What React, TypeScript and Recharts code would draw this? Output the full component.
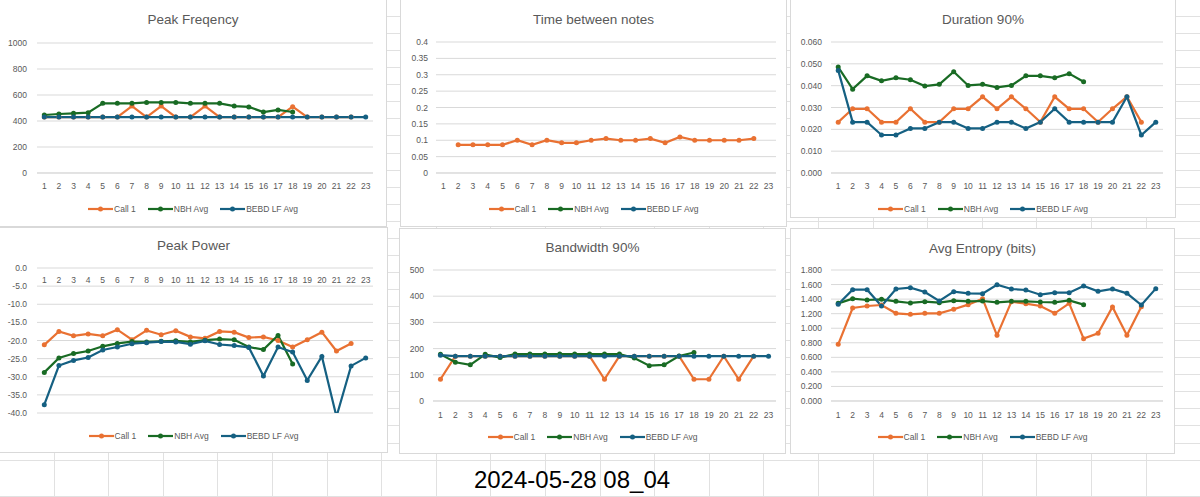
import React from 'react';
import { LineChart, Line, XAxis, YAxis, CartesianGrid } from 'recharts';

// categories shared by all six charts
const categories = ['1', '2', '3', '4', '5', '6', '7', '8', '9', '10', '11', '12', '13', '14', '15', '16', '17', '18', '19', '20', '21', '22', '23'];

const seriesNames = ['Call 1', 'NBH Avg', 'BEBD LF Avg'];
const seriesColors = ['#E97132', '#196B24', '#156082'];

// Peak Freqency
const peakFreqCall1 = [430, 430, 430, 430, 430, 430, 515, 430, 515, 430, 430, 515, 430, 430, 430, 430, 430, 510, 430, 430, 430, 430, null];
const peakFreqNbh = [446, 454, 459, 464, 536, 536, 536, 543, 543, 543, 536, 536, 536, 515, 508, 469, 485, 469, null, null, null, null, null];
const peakFreqBebd = [430, 430, 430, 430, 430, 430, 430, 430, 430, 430, 430, 430, 430, 430, 430, 430, 430, 430, 430, 430, 430, 430, 430];
const peakFreqTicks = [0, 200, 400, 600, 800, 1000];

// Time between notes
const timeCall1 = [null, 0.086, 0.086, 0.086, 0.086, 0.1, 0.086, 0.1, 0.092, 0.092, 0.1, 0.105, 0.1, 0.1, 0.105, 0.092, 0.11, 0.1, 0.1, 0.1, 0.1, 0.105, null];
const timeNbh = [null, null, null, null, null, null, null, null, null, null, null, null, null, null, null, null, null, null, null, null, null, null, null];
const timeBebd = [null, null, null, null, null, null, null, null, null, null, null, null, null, null, null, null, null, null, null, null, null, null, null];
const timeTicks = [0, 0.05, 0.1, 0.15, 0.2, 0.25, 0.3, 0.35, 0.4];

// Duration 90%
const durCall1 = [0.0233, 0.0294, 0.0294, 0.0233, 0.0233, 0.0294, 0.0233, 0.0233, 0.0294, 0.0294, 0.0349, 0.0294, 0.0349, 0.0294, 0.0233, 0.0349, 0.0294, 0.0294, 0.0233, 0.0294, 0.0349, 0.0233, null];
const durNbh = [0.0485, 0.0384, 0.0445, 0.0422, 0.0436, 0.0427, 0.0398, 0.0406, 0.0464, 0.0401, 0.0406, 0.0392, 0.0401, 0.0445, 0.0445, 0.0436, 0.0455, 0.0418, null, null, null, null, null];
const durBebd = [0.047, 0.0233, 0.0233, 0.0174, 0.0174, 0.0204, 0.0204, 0.0233, 0.0233, 0.0204, 0.0204, 0.0233, 0.0233, 0.0204, 0.0233, 0.0294, 0.0233, 0.0233, 0.0233, 0.0233, 0.0349, 0.0174, 0.0233];
const durTicks = [0, 0.01, 0.02, 0.03, 0.04, 0.05, 0.06];

// Peak Power
const powerCall1 = [-21.2, -17.5, -18.7, -18.2, -18.7, -17.0, -19.8, -17.2, -18.4, -17.3, -19.0, -19.4, -17.5, -17.7, -19.2, -19.0, -20.0, -21.8, -19.8, -17.7, -22.9, -20.8, null];
const powerNbh = [-28.8, -24.8, -23.6, -22.9, -21.6, -20.8, -20.3, -20.4, -20.2, -20.1, -20.4, -19.9, -19.6, -19.8, -21.8, -22.5, -18.6, -26.5, null, null, null, null, null];
const powerBebd = [-37.7, -26.9, -25.5, -24.7, -22.6, -21.8, -20.9, -20.6, -20.3, -20.4, -21.0, -20.1, -21.1, -21.4, -21.9, -29.8, -21.8, -23.2, -31.0, -24.4, -41.0, -27.0, -24.8];
const powerTicks = [-40, -35, -30, -25, -20, -15, -10, -5, 0];

// Bandwidth 90%
const bwCall1 = [83, 171, 171, 171, 171, 171, 171, 171, 171, 171, 171, 83, 171, 171, 171, 171, 171, 83, 83, 171, 83, 171, null];
const bwNbh = [178, 148, 138, 178, 166, 179, 179, 179, 179, 179, 179, 179, 179, 164, 135, 138, 172, 185, null, null, null, null, null];
const bwBebd = [175, 171, 171, 171, 171, 171, 171, 171, 171, 171, 171, 171, 171, 171, 171, 171, 171, 171, 171, 171, 171, 171, 171];
const bwTicks = [0, 100, 200, 300, 400, 500];

// Avg Entropy (bits)
const entCall1 = [0.779, 1.278, 1.305, 1.319, 1.205, 1.191, 1.205, 1.205, 1.26, 1.324, 1.406, 0.902, 1.365, 1.337, 1.305, 1.205, 1.342, 0.857, 0.93, 1.292, 0.902, 1.296, null];
const entNbh = [1.342, 1.406, 1.388, 1.397, 1.37, 1.347, 1.365, 1.351, 1.379, 1.37, 1.374, 1.356, 1.37, 1.37, 1.36, 1.356, 1.383, 1.324, null, null, null, null, null];
const entBebd = [1.328, 1.53, 1.53, 1.305, 1.539, 1.557, 1.498, 1.374, 1.502, 1.479, 1.475, 1.598, 1.539, 1.525, 1.461, 1.489, 1.489, 1.58, 1.507, 1.539, 1.479, 1.319, 1.544];
const entTicks = [0, 0.2, 0.4, 0.6, 0.8, 1.0, 1.2, 1.4, 1.6, 1.8];

const sheetCaption = '2024-05-28 08_04';

const FONT = '"Liberation Sans", Arial, sans-serif';
const GRAY = '#595959';
const GRID = '#D9D9D9';

type Layout = {
  x: number; y: number; w: number; h: number;
  pl: number; pr: number; pt: number; pb: number;
  labelRight: number; titleY: number; legendY: number; xLabelY: number;
};

type PanelProps = {
  title: string;
  layout: Layout;
  values: (number | null)[][];
  ticks: number[];
  fmt: (v: number) => string;
  xOnTop?: boolean;
};

const Legend = ({ top, width }: { top: number; width: number }) => (
  <div style={{ position: 'absolute', top, left: 0, width, height: 12, display: 'flex', justifyContent: 'center', alignItems: 'center', gap: 12, fontFamily: FONT, fontSize: 8.5, color: GRAY }}>
    {seriesNames.map((n, i) => (
      <div key={n} style={{ display: 'flex', alignItems: 'center', gap: 1 }}>
        <svg width={25} height={8}>
          <line x1={0} y1={4} x2={25} y2={4} stroke={seriesColors[i]} strokeWidth={2.2} />
          <circle cx={12.5} cy={4} r={2.5} fill={seriesColors[i]} />
        </svg>
        <span>{n}</span>
      </div>
    ))}
  </div>
);

const Panel = ({ title, layout, values, ticks, fmt, xOnTop }: PanelProps) => {
  const { x, y, w, h, pl, pr, pt, pb, labelRight, titleY, legendY, xLabelY } = layout;
  const data = categories.map((c, i) => ({ cat: c, s0: values[0][i], s1: values[1][i], s2: values[2][i] }));
  const half = (pr - pl) / 23 / 2;
  const xAxisH = 20;
  const margin = xOnTop
    ? { top: pt, right: w - pr, bottom: h - pb, left: 0 }
    : { top: pt, right: w - pr, bottom: h - pb - xAxisH, left: 0 };
  const tickStyle = { fontSize: 8.5, fill: GRAY, fontFamily: FONT };
  return (
    <div style={{ position: 'absolute', left: x, top: y, width: w, height: h, background: '#fff', border: `1px solid ${GRID}`, boxSizing: 'border-box' }}>
      <div style={{ position: 'absolute', left: -1, top: -1 }}>
        <LineChart width={w} height={h} data={data} margin={margin}>
          <CartesianGrid vertical={false} stroke={GRID} />
          {xOnTop ? (
            <XAxis dataKey="cat" orientation="top" mirror interval={0} tickLine={false} axisLine={false}
              tick={tickStyle} tickMargin={xLabelY - pt - 9} padding={{ left: half, right: half }} />
          ) : (
            <XAxis dataKey="cat" height={xAxisH} interval={0} tickLine={false} axisLine={{ stroke: GRID }}
              tick={tickStyle} tickMargin={xLabelY - pb - 9} padding={{ left: half, right: half }} />
          )}
          <YAxis width={pl} domain={[ticks[0], ticks[ticks.length - 1]]} ticks={ticks} allowDataOverflow interval={0}
            tickFormatter={fmt} tickLine={false} axisLine={false} tick={tickStyle} tickMargin={pl - 6 - labelRight} />
          {seriesNames.map((n, i) => (
            <Line key={n} dataKey={`s${i}`} name={n} stroke={seriesColors[i]} strokeWidth={2.2}
              dot={{ r: 2.5, fill: seriesColors[i], stroke: 'none' }} isAnimationActive={false} />
          ))}
        </LineChart>
        <div style={{ position: 'absolute', top: titleY - 9, left: 0, width: w, textAlign: 'center', fontFamily: FONT, fontSize: 13.5, lineHeight: '18px', color: GRAY }}>{title}</div>
        <Legend top={legendY - 6} width={w} />
      </div>
    </div>
  );
};

const layouts: Layout[] = [
  { x: -1, y: -1, w: 388, h: 228, pl: 38, pr: 374, pt: 44, pb: 174, labelRight: 28, titleY: 21, legendY: 210, xLabelY: 187 },
  { x: 400, y: -1, w: 387, h: 228, pl: 36, pr: 376, pt: 43, pb: 174, labelRight: 28, titleY: 21, legendY: 210, xLabelY: 187 },
  { x: 790, y: -1, w: 386, h: 219, pl: 41, pr: 373, pt: 43, pb: 174, labelRight: 32, titleY: 21, legendY: 210, xLabelY: 187 },
  { x: -1, y: 227, w: 389, h: 226, pl: 38, pr: 374, pt: 41, pb: 186, labelRight: 28, titleY: 19, legendY: 209, xLabelY: 53 },
  { x: 399, y: 228, w: 387, h: 226, pl: 34, pr: 377, pt: 42, pb: 173, labelRight: 25, titleY: 20, legendY: 209, xLabelY: 187 },
  { x: 790, y: 228, w: 385, h: 226, pl: 41, pr: 373, pt: 42, pb: 173, labelRight: 32, titleY: 21, legendY: 209, xLabelY: 187 },
];

const fmtInt = (v: number) => String(v);
const fmt3 = (v: number) => v.toFixed(3);
const fmt1 = (v: number) => v.toFixed(1);

export default function App() {
  return (
    <div style={{ position: 'absolute', left: 0, top: 0, width: 1200, height: 497, overflow: 'hidden', background: '#fff' }}>
      <div style={{ position: 'absolute', left: 0, top: 0, width: 1200, height: 461,
        backgroundImage: 'repeating-linear-gradient(to right, transparent 0, transparent 53.6px, #E1E1E1 53.6px, #E1E1E1 54.6px), repeating-linear-gradient(to bottom, transparent 0, transparent 16.06px, #E1E1E1 16.06px, #E1E1E1 17.06px)' }} />
      <div style={{ position: 'absolute', left: 0, top: 461, width: 1200, height: 36,
        backgroundImage: 'repeating-linear-gradient(to right, transparent 0, transparent 53.6px, #E1E1E1 53.6px, #E1E1E1 54.6px)', borderBottom: '1px solid #E1E1E1', boxSizing: 'border-box' }} />
      <Panel title="Peak Freqency" layout={layouts[0]} values={[peakFreqCall1, peakFreqNbh, peakFreqBebd]} ticks={peakFreqTicks} fmt={fmtInt} />
      <Panel title="Time between notes" layout={layouts[1]} values={[timeCall1, timeNbh, timeBebd]} ticks={timeTicks} fmt={fmtInt} />
      <Panel title="Duration 90%" layout={layouts[2]} values={[durCall1, durNbh, durBebd]} ticks={durTicks} fmt={fmt3} />
      <Panel title="Peak Power" layout={layouts[3]} values={[powerCall1, powerNbh, powerBebd]} ticks={powerTicks} fmt={fmt1} xOnTop />
      <Panel title="Bandwidth 90%" layout={layouts[4]} values={[bwCall1, bwNbh, bwBebd]} ticks={bwTicks} fmt={fmtInt} />
      <Panel title="Avg Entropy (bits)" layout={layouts[5]} values={[entCall1, entNbh, entBebd]} ticks={entTicks} fmt={fmt3} />
      <div style={{ position: 'absolute', left: 372, top: 466, width: 400, textAlign: 'center', fontFamily: FONT, fontSize: 24, lineHeight: '28px', color: '#000' }}>{sheetCaption}</div>
    </div>
  );
}
